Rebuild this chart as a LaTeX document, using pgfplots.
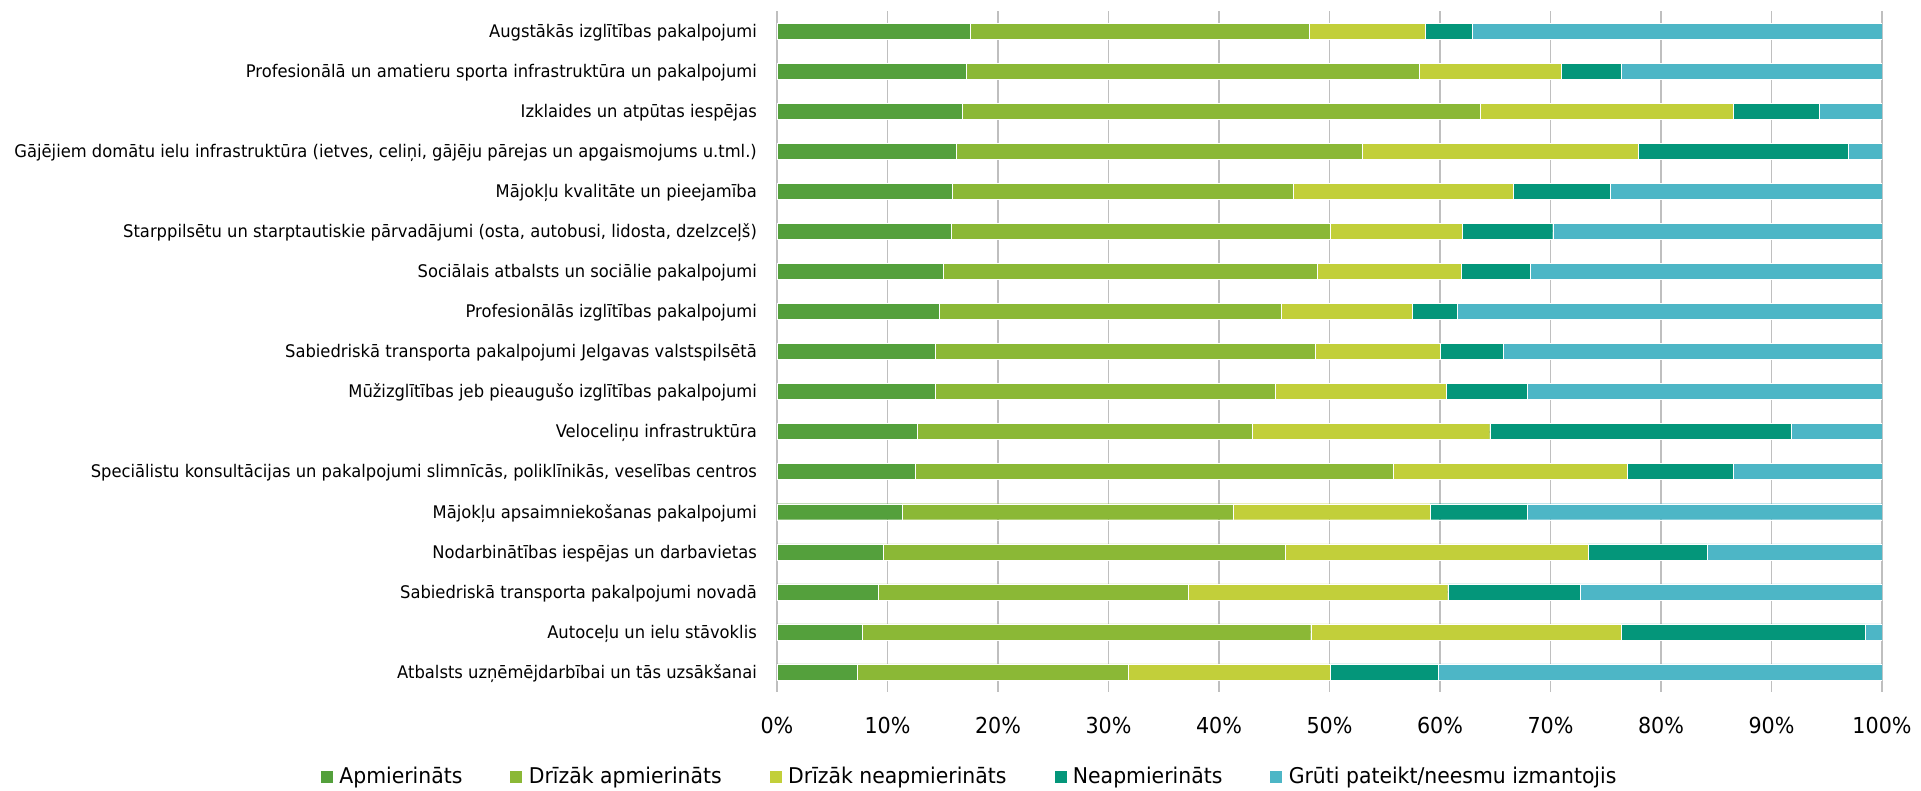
\documentclass[border=0pt]{standalone}
\usepackage{fontspec}
\setmainfont[FakeStretch=0.94]{DejaVu Sans}
\usepackage{pgfplots}
\usepackage{pgfplotstable}
\pgfplotsset{compat=1.18}

\definecolor{cA}{HTML}{54A03C}
\definecolor{cB}{HTML}{8BB836}
\definecolor{cC}{HTML}{C2CF3A}
\definecolor{cD}{HTML}{04967A}
\definecolor{cE}{HTML}{4DB6C6}
\definecolor{grid}{HTML}{D9D9D9}

% rows top to bottom, shares in percent
\pgfplotstableread{
y a b c d e
0 17.5 30.7 10.5 4.2 37.1
1 17.1 41.0 12.9 5.4 23.6
2 16.8 46.8 22.9 7.8 5.7
3 16.2 36.8 24.9 19.0 3.1
4 15.9 30.8 19.9 8.8 24.6
5 15.8 34.3 11.9 8.2 29.8
6 15.0 33.9 13.0 6.3 31.8
7 14.7 30.9 11.9 4.1 38.4
8 14.3 34.4 11.3 5.7 34.3
9 14.3 30.8 15.5 7.3 32.1
10 12.7 30.3 21.5 27.3 8.2
11 12.5 43.3 21.1 9.6 13.5
12 11.3 30.0 17.8 8.8 32.1
13 9.6 36.4 27.4 10.8 15.8
14 9.2 28.0 23.5 12.0 27.3
15 7.7 40.6 28.1 22.1 1.5
16 7.3 24.5 18.3 9.7 40.2
}\data

\begin{document}
\begin{tikzpicture}[x=1pt,y=1pt]
\path[use as bounding box] (0,0) rectangle (1921,790);
\begin{axis}[
  at={(777pt,98pt)}, anchor=south west,
  width=1105pt, height=681pt, scale only axis,
  xbar stacked, bar width=16pt,
  xmin=0, xmax=100, ymin=-0.5, ymax=16.5,
  y dir=reverse,
  axis line style={draw=none},
  major tick length=0pt,
  xtick={0,10,...,100},
  xticklabel={\pgfmathprintnumber{\tick}\%},
  /pgf/number format/assume math mode=true,
  xmajorgrids, major grid style={grid, line width=1.8pt},
  xticklabel style={font=\fontsize{22}{26}\selectfont, anchor=base, inner sep=0pt, yshift=-41pt},
  ytick={0,...,16},
  yticklabels={
    Augstākās izglītības pakalpojumi,
    Profesionālā un amatieru sporta infrastruktūra un pakalpojumi,
    Izklaides un atpūtas iespējas,
    {Gājējiem domātu ielu infrastruktūra (ietves, celiņi, gājēju pārejas un apgaismojums u.tml.)},
    Mājokļu kvalitāte un pieejamība,
    {Starppilsētu un starptautiskie pārvadājumi (osta, autobusi, lidosta, dzelzceļš)},
    Sociālais atbalsts un sociālie pakalpojumi,
    Profesionālās izglītības pakalpojumi,
    Sabiedriskā transporta pakalpojumi Jelgavas valstspilsētā,
    Mūžizglītības jeb pieaugušo izglītības pakalpojumi,
    Veloceliņu infrastruktūra,
    {Speciālistu konsultācijas un pakalpojumi slimnīcās, poliklīnikās, veselības centros},
    Mājokļu apsaimniekošanas pakalpojumi,
    Nodarbinātības iespējas un darbavietas,
    Sabiedriskā transporta pakalpojumi novadā,
    Autoceļu un ielu stāvoklis,
    Atbalsts uzņēmējdarbībai un tās uzsākšanai},
  yticklabel style={font=\fontsize{17.4}{21}\selectfont, anchor=base east, inner sep=0pt,
    xshift=-20pt, yshift=-6.3pt},
  legend columns=-1,
  legend style={at={(axis description cs:-0.4136,-0.124)}, anchor=west, draw=none,
    inner sep=0pt, outer sep=0pt, nodes={inner sep=0pt},
    font=\fontsize{21.7}{26}\selectfont,
    /tikz/every odd column/.append style={column sep=6pt},
    /tikz/every even column/.append style={column sep=47pt}},
  legend image code/.code={\fill[#1] (0pt,-6.5pt) rectangle (13pt,6.5pt);},
]
\addplot[fill=cA, draw=white, line width=0.4pt] table[x=a, y=y]{\data};
\addplot[fill=cB, draw=white, line width=0.4pt] table[x=b, y=y]{\data};
\addplot[fill=cC, draw=white, line width=0.4pt] table[x=c, y=y]{\data};
\addplot[fill=cD, draw=white, line width=0.4pt] table[x=d, y=y]{\data};
\addplot[fill=cE, draw=white, line width=0.4pt] table[x=e, y=y]{\data};
\legend{Apmierināts, Drīzāk apmierināts, Drīzāk neapmierināts, Neapmierināts, Grūti pateikt/neesmu izmantojis}
\end{axis}
\end{tikzpicture}
\end{document}
